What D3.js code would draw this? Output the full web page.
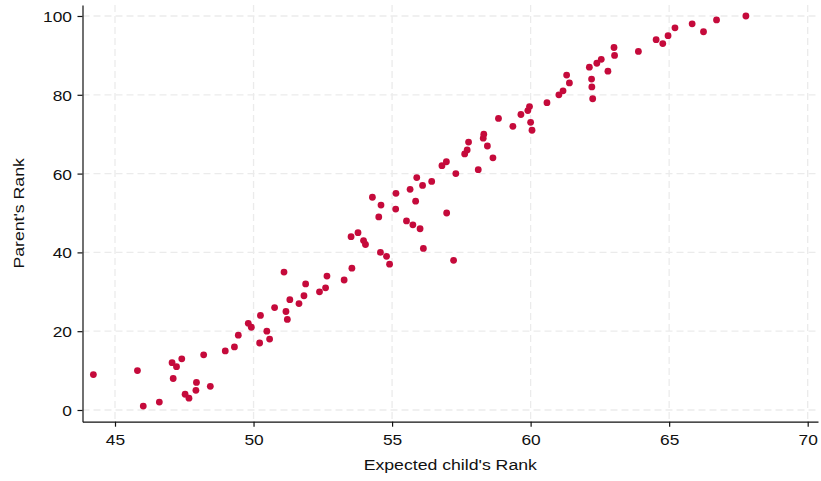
<!DOCTYPE html>
<html>
<head>
<meta charset="utf-8">
<script src="https://cdn.jsdelivr.net/npm/d3@7"></script>
<style>
  html, body { margin: 0; padding: 0; background: #ffffff; }
  svg { display: block; }
  text { font-family: "Liberation Sans", Arial, Helvetica, sans-serif; fill: #111; }
</style>
</head>
<body>
<svg id="chart" width="821" height="481"></svg>
<script>
// Expected child's rank for each parent's rank (1..100)
const parentRank = d3.range(1, 101);
const childRank = [
  46.02, 46.60, 47.67, 47.53, 47.92, 48.44, 47.94, 47.10, 44.22, 45.81,
  47.22, 47.06, 47.41, 48.20, 48.98, 49.31, 50.22, 50.58, 49.45, 50.48,
  49.92, 49.81, 51.22, 50.25, 51.17, 50.76, 51.64, 51.31, 51.82, 52.38,
  52.60, 51.88, 53.27, 52.65, 51.10, 53.55, 54.91, 57.22, 54.80, 54.58,
  56.13, 54.04, 53.97, 53.52, 53.77, 56.01, 55.75, 55.52, 54.52, 56.97,
  55.13, 54.60, 55.85, 54.29, 55.14, 55.65, 56.10, 56.43, 55.89, 57.30,
  58.11, 56.80, 56.96, 58.64, 57.62, 57.71, 58.44, 57.76, 58.29, 58.31,
  60.05, 59.36, 60.00, 58.84, 59.65, 59.90, 59.96, 60.59, 62.24, 61.02,
  61.17, 62.21, 61.40, 62.20, 61.30, 62.79, 62.12, 62.39, 62.55, 63.03,
  63.89, 63.01, 64.77, 64.53, 64.96, 66.24, 65.21, 65.83, 66.71, 67.77
];
const xTicks = [45, 50, 55, 60, 65, 70];
const yTicks = [0, 20, 40, 60, 80, 100];
const xTitle = "Expected child's Rank";
const yTitle = "Parent's Rank";

const points = parentRank.map((p, i) => ({ x: childRank[i], y: p }));

const svg = d3.select("#chart");
const plotLeft = 82.5, plotRight = 818, plotTop = 5, plotBottom = 421.7;
// the text face is drawn slightly wide
const stretch = 1.12;

const x = d3.scaleLinear().domain([43.827, 70.372]).range([plotLeft, plotRight]);
const y = d3.scaleLinear().domain([-2.97, 102.79]).range([plotBottom, plotTop]);

// dashed grid
const grid = svg.append("g").attr("stroke", "#ebebeb").attr("stroke-width", 1.3)
  .attr("stroke-dasharray", "7,4");
grid.selectAll("line.v").data(xTicks).join("line").attr("class", "v")
  .attr("x1", d => x(d)).attr("x2", d => x(d))
  .attr("y1", plotTop).attr("y2", plotBottom);
grid.selectAll("line.h").data(yTicks).join("line").attr("class", "h")
  .attr("x1", plotLeft).attr("x2", plotRight)
  .attr("y1", d => y(d)).attr("y2", d => y(d));

// axes
const xAxis = d3.axisBottom(x).tickValues(xTicks).tickSize(5).tickPadding(4).tickSizeOuter(0);
const yAxis = d3.axisLeft(y).tickValues(yTicks).tickSize(5).tickPadding(4).tickSizeOuter(0);

const gx = svg.append("g").attr("transform", `translate(0,${plotBottom})`).call(xAxis);
const gy = svg.append("g").attr("transform", `translate(${plotLeft},0)`).call(yAxis);
[gx, gy].forEach(g => {
  g.select(".domain").attr("stroke", "#111").attr("stroke-width", 1.2);
  g.selectAll(".tick line").attr("stroke", "#111").attr("stroke-width", 1.2);
  g.selectAll(".tick text").attr("font-size", "15.5px").attr("fill", "#111")
    .attr("font-family", "'Liberation Sans', Arial, Helvetica, sans-serif");
});
gx.selectAll(".tick text").attr("dy", "0.95em")
  .attr("transform", `scale(${stretch},1)`);
gy.selectAll(".tick text").attr("dy", "0.36em")
  .attr("x", -10.5 / stretch)
  .attr("transform", `scale(${stretch},1)`);

// points
svg.append("g").selectAll("circle").data(points).join("circle")
  .attr("cx", d => x(d.x)).attr("cy", d => y(d.y))
  .attr("r", 3.4).attr("fill", "#c50a3b");

// axis titles
svg.append("text")
  .attr("transform", `translate(${(plotLeft + plotRight) / 2},470) scale(${stretch + 0.02},1)`)
  .attr("text-anchor", "middle").attr("font-size", "15.5px").text(xTitle);
svg.append("text")
  .attr("transform", `translate(24,${(plotTop + plotBottom) / 2}) rotate(-90) scale(${stretch + 0.02},1)`)
  .attr("text-anchor", "middle").attr("font-size", "15.5px").text(yTitle);
</script>
</body>
</html>
